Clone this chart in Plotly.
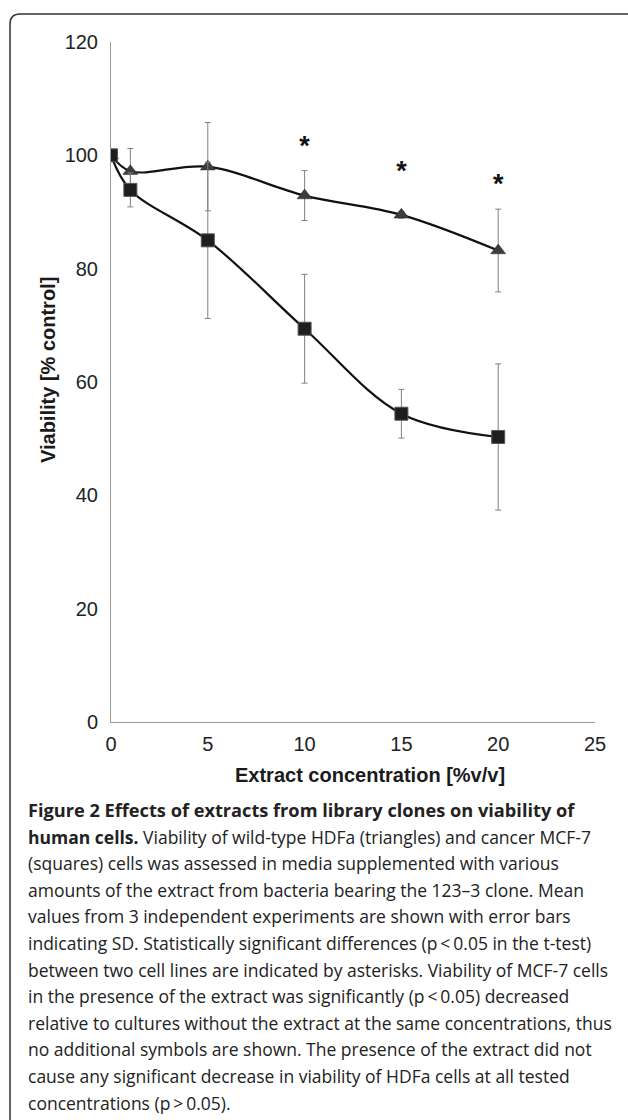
import plotly.graph_objects as go

# ---- data ----
conc = [0, 1, 5, 10, 15, 20]
hdfa_mean = [100, 97.2, 98.0, 92.9, 89.5, 83.2]
hdfa_sd = [0, 4.0, 7.8, 4.4, 0.6, 7.3]
mcf7_mean = [100, 93.9, 85.0, 69.4, 54.4, 50.3]
mcf7_sd = [0, 3.0, 13.8, 9.6, 4.3, 12.9]
sig_conc = [10, 15, 20]
sig_y = [101.3, 96.8, 94.6]

x_ticks = [0, 5, 10, 15, 20, 25]
y_ticks = [0, 20, 40, 60, 80, 100, 120]

x_title = "Extract concentration [%v/v]"
y_title = "Viability [% control]"

caption_lines = [
    "<b>Figure 2 Effects of extracts from library clones on viability of</b>",
    "<b>human cells.</b> Viability of wild-type HDFa (triangles) and cancer MCF-7",
    "(squares) cells was assessed in media supplemented with various",
    "amounts of the extract from bacteria bearing the 123\u20133 clone. Mean",
    "values from 3 independent experiments are shown with error bars",
    "indicating SD. Statistically significant differences (p\u2009<\u20090.05 in the t-test)",
    "between two cell lines are indicated by asterisks. Viability of MCF-7 cells",
    "in the presence of the extract was significantly (p\u2009<\u20090.05) decreased",
    "relative to cultures without the extract at the same concentrations, thus",
    "no additional symbols are shown. The presence of the extract did not",
    "cause any significant decrease in viability of HDFa cells at all tested",
    "concentrations (p\u2009>\u20090.05).",
]

# ---- geometry (pixels) ----
W, H = 628, 1120
L, R, T, B = 111, 595, 42, 722
pw, ph = R - L, B - T


def px(xp):
    return (xp - L) / pw


def py(yp):
    return (B - yp) / ph


fig = go.Figure()

err_style = dict(type="data", thickness=1, width=3, color="#808080")

fig.add_trace(go.Scatter(
    x=conc, y=hdfa_mean, mode="lines+markers", name="HDFa",
    line=dict(color="#111111", width=2.2, shape="spline", smoothing=1.0),
    marker=dict(symbol="triangle-up", size=13, color="#3c3c3c",
                line=dict(color="#2a2a2a", width=0.5)),
    error_y=dict(array=hdfa_sd, **err_style),
))
fig.add_trace(go.Scatter(
    x=conc, y=mcf7_mean, mode="lines+markers", name="MCF-7",
    line=dict(color="#111111", width=2.2, shape="spline", smoothing=1.0),
    marker=dict(symbol="square", size=13, color="#1e1e1e",
                line=dict(color="#555555", width=1)),
    error_y=dict(array=mcf7_sd, **err_style),
))
fig.add_trace(go.Scatter(
    x=sig_conc, y=sig_y, mode="text", text=["<b>*</b>"] * len(sig_conc),
    textfont=dict(family="Liberation Sans", size=27, color="#111111"),
    hoverinfo="skip",
))

fig.update_xaxes(
    range=[0, 25], tickvals=x_ticks, showgrid=False, zeroline=False,
    showline=True, linecolor="#999999", linewidth=1, ticks="",
    ticklabelstandoff=4,
    tickfont=dict(family="Liberation Sans", size=20, color="#222222"),
)
fig.update_yaxes(
    range=[0, 120], tickvals=y_ticks, showgrid=False, zeroline=False,
    showline=True, linecolor="#999999", linewidth=1, ticks="",
    ticklabelstandoff=8,
    tickfont=dict(family="Liberation Sans", size=20, color="#222222"),
)

annotations = [
    dict(x=px(370), y=py(775), xref="paper", yref="paper", text="<b>" + x_title + "</b>",
         showarrow=False, xanchor="center", yanchor="middle",
         font=dict(family="Liberation Sans", size=20, color="#1a1a1a")),
    dict(x=px(48), y=py(370), xref="paper", yref="paper", text="<b>" + y_title + "</b>",
         showarrow=False, xanchor="center", yanchor="middle", textangle=-90,
         font=dict(family="Liberation Sans", size=20, color="#1a1a1a")),
]
line_y0, line_dy = 810, 26.6
for i, t in enumerate(caption_lines):
    annotations.append(dict(
        x=px(26), y=py(line_y0 + i * line_dy), xref="paper", yref="paper",
        text=t, showarrow=False, xanchor="left", yanchor="middle", align="left",
        font=dict(family="Open Sans", size=18.2 if i == 0 else 17.5, color="#222222"),
    ))

x0, x1, y0, y1 = px(10), px(20), py(14), py(24)
frame_path = (f"M {x0},{py(1130)} L {x0},{y1} Q {x0},{y0} {x1},{y0} L {px(640)},{y0}")

fig.update_layout(
    width=W, height=H, margin=dict(l=L, r=W - R, t=T, b=H - B),
    paper_bgcolor="white", plot_bgcolor="white", showlegend=False,
    annotations=annotations,
    shapes=[dict(type="path", path=frame_path, xref="paper", yref="paper",
                 line=dict(color="#333333", width=1.5))],
)

fig.write_html("out.html", config={"displayModeBar": False},
               post_script="document.body.style.margin='0';")
